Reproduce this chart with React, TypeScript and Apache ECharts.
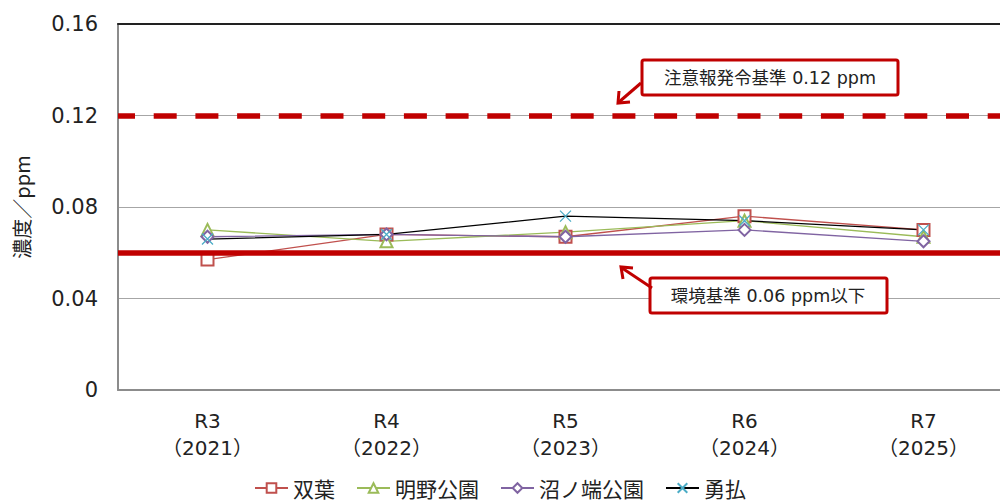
import React, { useEffect, useRef } from "react";
import * as echarts from "echarts";

// Fiscal years (Reiwa era with Gregorian year)
const categories = ["R3\n（2021）", "R4\n（2022）", "R5\n（2023）", "R6\n（2024）", "R7\n（2025）"];

// Annual peak oxidant concentration (ppm) per monitoring station
const futaba = [0.057, 0.068, 0.067, 0.076, 0.07];
const akenoPark = [0.07, 0.065, 0.069, 0.074, 0.067];
const numanohataPark = [0.067, 0.068, 0.067, 0.07, 0.065];
const yufutsu = [0.066, 0.068, 0.076, 0.074, 0.07];

// Reference levels
const warningLevel = 0.12;
const envStandard = 0.06;

const yTicks = [0, 0.04, 0.08, 0.12, 0.16];

const RED = "#C00000";
const LATIN = "'DejaVu Sans', 'Noto Sans CJK JP', sans-serif";
const CJK = "'Noto Sans CJK JP', sans-serif";

// X-shaped marker outline
const CROSS = "path://M0,0L10,10M10,0L0,10";

export default function App() {
  const ref = useRef<HTMLDivElement>(null);

  useEffect(() => {
    if (!ref.current) return;
    const chart = echarts.init(ref.current, null, { renderer: "svg" });

    const lineSeries = (
      name: string,
      data: number[],
      color: string,
      symbol: string,
      lineColor?: string
    ) => ({
      name,
      type: "line",
      data,
      symbol,
      symbolSize: symbol === CROSS ? 11 : 12,
      showSymbol: true,
      z: 3,
      lineStyle: { color: lineColor || color, width: 1.3 },
      itemStyle: { color, borderColor: color, borderWidth: 1.3 },
      emphasis: { disabled: true },
    });

    chart.setOption({
      animation: false,
      backgroundColor: "#fff",
      textStyle: { fontFamily: LATIN },
      grid: {
        left: 118,
        top: 24,
        width: 895,
        bottom: 112,
        containLabel: false,
        outerBoundsMode: "none",
      },
      legend: {
        left: "center",
        top: 476,
        padding: 0,
        itemWidth: 33,
        itemHeight: 12,
        itemGap: 21,
        data: ["双葉", "明野公園", "沼ノ端公園", "勇払"],
        textStyle: { fontFamily: CJK, fontSize: 21, lineHeight: 24, color: "#222" },
      },
      xAxis: [
        {
          type: "category",
          data: categories,
          boundaryGap: true,
          axisLine: { lineStyle: { color: "#8c8c8c", width: 2 } },
          axisTick: { show: false },
          axisLabel: {
            fontFamily: LATIN,
            fontSize: 20,
            color: "#222",
            lineHeight: 27,
            margin: 17,
          },
        },
        {
          type: "category",
          data: categories,
          position: "top",
          axisLine: { show: true, lineStyle: { color: "#222", width: 2 } },
          axisTick: { show: false },
          axisLabel: { show: false },
        },
      ],
      yAxis: {
        type: "value",
        min: yTicks[0],
        max: yTicks[yTicks.length - 1],
        interval: 0.04,
        name: "濃度／ppm",
        nameLocation: "middle",
        nameGap: 87,
        nameTextStyle: { fontFamily: CJK, fontSize: 20, color: "#222" },
        axisLine: { show: true, lineStyle: { color: "#8c8c8c", width: 2 } },
        axisTick: { show: false },
        splitLine: { lineStyle: { color: "#a6a6a6", width: 1 } },
        axisLabel: {
          fontFamily: LATIN,
          fontSize: 21,
          color: "#222",
          margin: 20,
          formatter: (v: number) => (v === 0 ? "0" : v.toFixed(2)),
        },
      },
      series: [
        {
          name: "基準",
          type: "line",
          data: categories.map(() => null),
          z: 2,
          silent: true,
          markLine: {
            silent: true,
            symbol: "none",
            label: { show: false },
            emphasis: { disabled: true },
            data: [
              { yAxis: warningLevel, lineStyle: { color: RED, width: 5.5, type: [23, 18.7], dashOffset: 6 } },
              { yAxis: envStandard, lineStyle: { color: RED, width: 5.5, type: "solid" } },
            ],
          },
        },
        lineSeries("双葉", futaba, "#C0504D", "emptyRect"),
        lineSeries("明野公園", akenoPark, "#9BBB59", "emptyTriangle"),
        lineSeries("沼ノ端公園", numanohataPark, "#8064A2", "emptyDiamond"),
        lineSeries("勇払", yufutsu, "#4BACC6", CROSS, "#000"),
      ],
      graphic: [
        // Warning level callout
        {
          type: "rect",
          shape: { x: 642, y: 60, width: 256, height: 35, r: 2 },
          style: { fill: "#fff", stroke: RED, lineWidth: 3 },
          z: 10,
        },
        {
          type: "text",
          x: 770,
          y: 78,
          style: {
            text: "注意報発令基準 0.12 ppm",
            fontFamily: LATIN,
            fontSize: 17.5,
            fill: "#222",
            align: "center",
            verticalAlign: "middle",
          },
          z: 11,
        },
        {
          type: "line",
          shape: { x1: 641, y1: 83, x2: 619, y2: 102 },
          style: { stroke: RED, lineWidth: 3 },
          z: 10,
        },
        {
          type: "polyline",
          shape: { points: [[619, 91], [618, 103], [630, 102]] },
          style: { stroke: RED, lineWidth: 3, fill: "none" },
          z: 10,
        },
        // Environmental standard callout
        {
          type: "rect",
          shape: { x: 650, y: 278, width: 237, height: 35, r: 2 },
          style: { fill: "#fff", stroke: RED, lineWidth: 3 },
          z: 10,
        },
        {
          type: "text",
          x: 768,
          y: 296,
          style: {
            text: "環境基準 0.06 ppm以下",
            fontFamily: LATIN,
            fontSize: 17.5,
            fill: "#222",
            align: "center",
            verticalAlign: "middle",
          },
          z: 11,
        },
        {
          type: "line",
          shape: { x1: 652, y1: 288, x2: 622, y2: 268 },
          style: { stroke: RED, lineWidth: 3 },
          z: 10,
        },
        {
          type: "polyline",
          shape: { points: [[633, 268], [621, 267], [623, 279]] },
          style: { stroke: RED, lineWidth: 3, fill: "none" },
          z: 10,
        },
      ],
    });

    return () => chart.dispose();
  }, []);

  return (
    <div
      ref={ref}
      style={{ position: "absolute", left: 0, top: 0, width: 1000, height: 502 }}
    />
  );
}
